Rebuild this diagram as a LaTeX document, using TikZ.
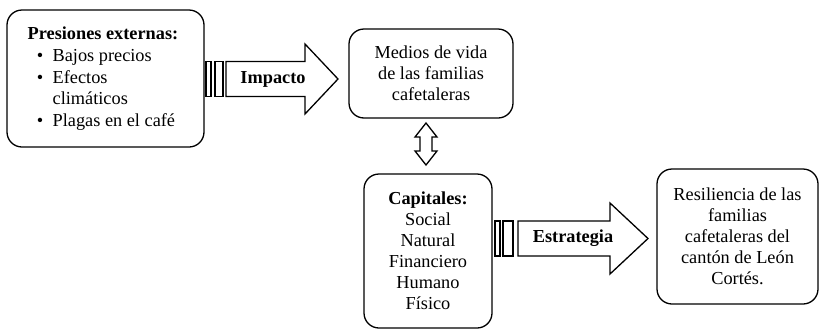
\documentclass[tikz,border=0pt]{standalone}
\usepackage{fontspec}
\setmainfont{Liberation Serif}
\begin{document}
\begin{tikzpicture}[x=1pt,y=-1pt, line width=1.3pt,
  box/.style={draw, rounded corners=15pt, align=center, inner sep=0pt,
    font=\fontsize{18.3}{21}\selectfont},
  ltxt/.style={inner sep=0pt, anchor=base west, font=\fontsize{18.3}{21}\selectfont},
  bul/.style={inner sep=0pt, anchor=base, font=\fontsize{18.3}{21}\selectfont},
  blk/.style={draw, fill=white, line join=miter},
  atxt/.style={inner sep=0pt, font=\fontsize{18.3}{21}\selectfont\bfseries}]
\useasboundingbox (0,0) rectangle (820,330);

% boxes
\node[box, minimum width=197, minimum height=137] (pres) at (105.5,78.5) {};
\node[box, minimum width=164, minimum height=89] (medios) at (431,73.5)
  {Medios de vida\\de las familias\\cafetaleras};
\node[box, minimum width=128, minimum height=154] (cap) at (428,251)
  {\textbf{Capitales:}\\Social\\Natural\\Financiero\\Humano\\Físico};
\node[box, minimum width=161, minimum height=135] (res) at (737.5,236.5)
  {Resiliencia de las\\familias\\cafetaleras del\\cantón de León\\Cortés.};

% text of box 1
\node[ltxt] (p0) at (27,39) {\textbf{Presiones externas:}};
\node[bul] (b1) at (40,61) {•};
\node[ltxt] (p1) at (52,61) {Bajos precios};
\node[bul] (b2) at (40,83) {•};
\node[ltxt] (p2) at (52,83) {Efectos};
\node[ltxt] (p3) at (52,104) {climáticos};
\node[bul] (b4) at (40,126) {•};
\node[ltxt] (p4) at (52,126) {Plagas en el café};

% Impacto arrow
\draw[blk] (206,61.5) rectangle (211,96.5);
\draw[blk] (215,61.5) rectangle (223,96.5);
\draw[blk] (226,61.5) -- (305,61.5) -- (305,44) -- (338,79) -- (305,114)
  -- (305,96.5) -- (226,96.5) -- cycle;
\node[atxt] (imp) at (273,79) {Impacto};

% Estrategia arrow
\draw[blk] (495,221) rectangle (500,256);
\draw[blk] (503,221) rectangle (513,256);
\draw[blk] (518,221) -- (610,221) -- (610,203) -- (648,238.5) -- (610,274)
  -- (610,256) -- (518,256) -- cycle;
\node[atxt] (est) at (573,238.5) {Estrategia};

% double arrow
\draw[blk] (426,123) -- (437,137) -- (432,137) -- (432,151) -- (437,151)
  -- (426,165) -- (415,151) -- (420,151) -- (420,137) -- (415,137) -- cycle;
\end{tikzpicture}
\end{document}
